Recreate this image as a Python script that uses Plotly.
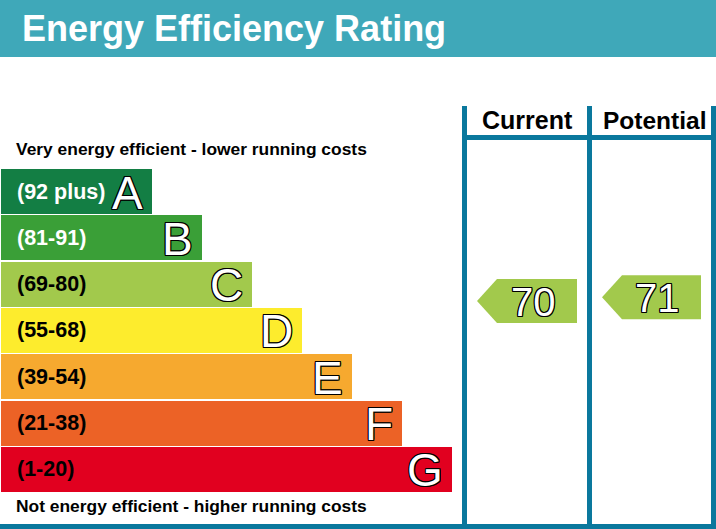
import plotly.graph_objects as go

# EPC bands, best to worst
band_letters = ['A', 'B', 'C', 'D', 'E', 'F', 'G']
band_labels = ['(92 plus)', '(81-91)', '(69-80)', '(55-68)', '(39-54)', '(21-38)', '(1-20)']
band_low = [92, 81, 69, 55, 39, 21, 1]
band_high = [100, 91, 80, 68, 54, 38, 20]
band_colors = ['#137e44', '#3a9f37', '#a2c94c', '#fdec2d', '#f6a92f', '#ec6226', '#e1001f']
label_colors = ['white', 'white', 'black', 'black', 'black', 'black', 'black']

current_rating = 70
potential_rating = 71

W, H = 716, 529
teal = '#3fa8b9'
line_col = '#0a789d'
outline = ('-1px -1px 0 #000, 1px -1px 0 #000, -1px 1px 0 #000, 1px 1px 0 #000, '
           '0 1px 0 #000, 0 -1px 0 #000, 1px 0 0 #000, -1px 0 0 #000')
font = 'Liberation Sans, Arial, sans-serif'

band_top0, band_step, band_h = 169, 46.3, 45
bar_len0, bar_len_step = 152, 50

tops = [band_top0 + i * band_step for i in range(len(band_letters))]
centers = [t + band_h / 2 for t in tops]
lengths = [bar_len0 + i * bar_len_step for i in range(len(band_letters))]

fig = go.Figure()
fig.add_trace(go.Bar(
    orientation='h', y=centers, x=[l - 1 for l in lengths], base=1, width=band_h,
    marker=dict(color=band_colors, line=dict(width=0)), hoverinfo='skip', showlegend=False
))

ann = []
for i, letter in enumerate(band_letters):
    ann.append(dict(x=15, y=centers[i], text=f'<b>{band_labels[i]}</b>', xanchor='left', yanchor='middle',
                    font=dict(family=font, size=21.5, color=label_colors[i])))
    ann.append(dict(x=lengths[i] - 7, y=centers[i] + 1, text=letter, xanchor='right', yanchor='middle',
                    font=dict(family=font, size=46, color='white', shadow=outline)))

shapes = [
    dict(type='rect', x0=0, x1=W, y0=0, y1=57, fillcolor=teal, line_width=0, layer='below'),
    dict(type='rect', x0=0, x1=W, y0=524, y1=H, fillcolor=line_col, line_width=0),
    dict(type='rect', x0=462, x1=W, y0=135, y1=140, fillcolor=line_col, line_width=0),
]
col_edges = [(462, 467), (587, 592), (711, 716)]
for x0, x1 in col_edges:
    shapes.append(dict(type='rect', x0=x0, x1=x1, y0=106, y1=H, fillcolor=line_col, line_width=0))


def rating_y(v):
    i = next(k for k in range(len(band_low)) if band_low[k] <= v <= band_high[k])
    frac = (v - band_low[i] + 0.5) / (band_high[i] - band_low[i] + 1)
    return tops[i] + band_h - frac * band_h, i


for v, (cl, cr) in zip([current_rating, potential_rating], [(467, 587), (592, 711)]):
    yc, bi = rating_y(v)
    tip = cl + 10
    right = cr - 10
    body = tip + 20
    path = f'M {tip},{yc} L {body},{yc - 22} L {right},{yc - 22} L {right},{yc + 22} L {body},{yc + 22} Z'
    shapes.append(dict(type='path', path=path, fillcolor=band_colors[bi], line_width=0))
    ann.append(dict(x=(body + right) / 2 - 4, y=yc + 1, text=str(v), xanchor='center', yanchor='middle',
                    font=dict(family=font, size=40, color='white', shadow=outline)))

ann += [
    dict(x=20, y=28, text='<b>Energy Efficiency Rating</b>', xanchor='left', yanchor='middle',
         font=dict(family=font, size=36, color='white')),
    dict(x=527, y=120, text='<b>Current</b>', xanchor='center', yanchor='middle',
         font=dict(family=font, size=25, color='black')),
    dict(x=654, y=120, text='<b>Potential</b>', xanchor='center', yanchor='middle',
         font=dict(family=font, size=24.5, color='black')),
    dict(x=14, y=149, text='<b>Very energy efficient - lower running costs</b>', xanchor='left', yanchor='middle',
         font=dict(family=font, size=17.4, color='black')),
    dict(x=14, y=506, text='<b>Not energy efficient - higher running costs</b>', xanchor='left', yanchor='middle',
         font=dict(family=font, size=17.4, color='black')),
]
for a in ann:
    a.update(xref='x', yref='y', showarrow=False)

fig.update_layout(
    width=W, height=H, margin=dict(l=0, r=0, t=0, b=0),
    paper_bgcolor='white', plot_bgcolor='white',
    xaxis=dict(range=[0, W], visible=False, fixedrange=True),
    yaxis=dict(range=[H, 0], visible=False, fixedrange=True),
    shapes=shapes, annotations=ann, bargap=0,
)
# drop the default page margin so the chart fills the window
fig.write_html('out.html', post_script="document.body.style.margin='0';",
               config={'displayModeBar': False})
